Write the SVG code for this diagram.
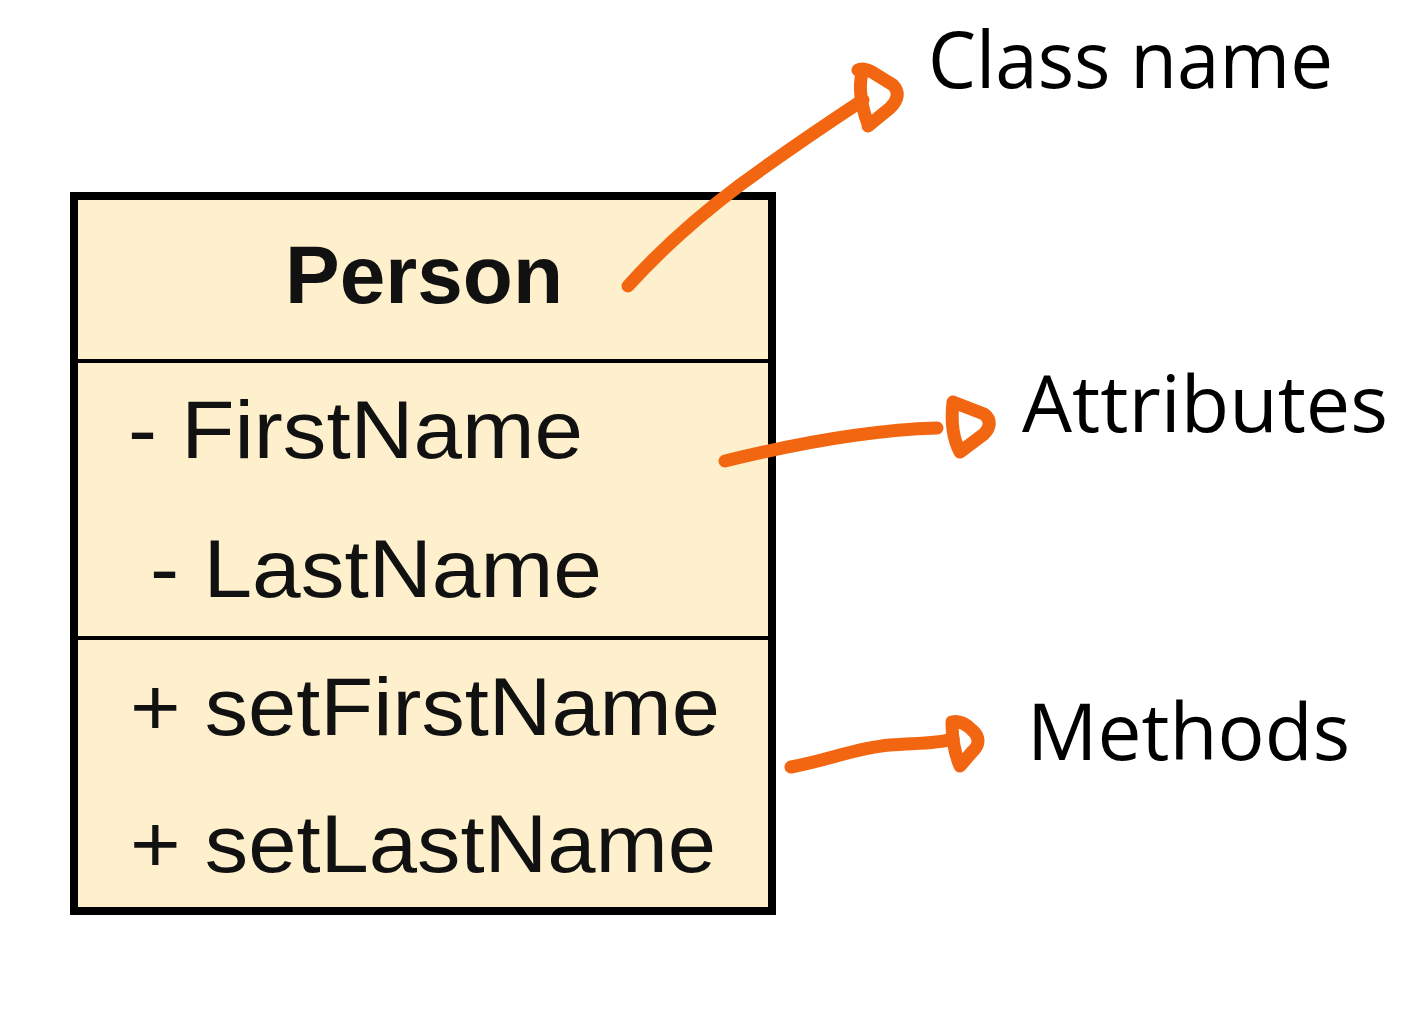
<svg xmlns="http://www.w3.org/2000/svg" width="1424" height="1024" viewBox="0 0 1424 1024">
<style>
.box{fill:#FEF0CD;stroke:#000;stroke-width:8}
.div{stroke:#000;stroke-width:4}
.t{font-family:"Liberation Sans",Arial,sans-serif;font-size:82px;fill:#111}
.b{font-weight:bold}
.lbl{font-family:"Open Sans","Liberation Sans",sans-serif;font-size:78px;fill:#000}
.arr{fill:none;stroke:#F26611;stroke-width:13;stroke-linecap:round;stroke-linejoin:round}
</style>
<rect width="1424" height="1024" fill="#fff"/>
<g id="person">
<rect class="box" x="74" y="196" width="698" height="715"/>
<line class="div" x1="74" y1="361" x2="772" y2="361"/>
<line class="div" x1="74" y1="638" x2="772" y2="638"/>
<text class="t b" x="424" y="303" text-anchor="middle" textLength="278" lengthAdjust="spacingAndGlyphs">Person</text>
<text class="t" x="128" y="458" textLength="455" lengthAdjust="spacingAndGlyphs">- FirstName</text>
<text class="t" x="150" y="597" textLength="452" lengthAdjust="spacingAndGlyphs">- LastName</text>
<text class="t" x="130" y="735" textLength="590" lengthAdjust="spacingAndGlyphs">+ setFirstName</text>
<text class="t" x="130" y="872" textLength="586" lengthAdjust="spacingAndGlyphs">+ setLastName</text>
</g>
<g id="label-classname"><text class="lbl" x="928" y="88" textLength="405" lengthAdjust="spacingAndGlyphs">Class name</text></g>
<g id="label-attributes"><text class="lbl" x="1022" y="432" textLength="366" lengthAdjust="spacingAndGlyphs">Attributes</text></g>
<g id="label-methods"><text class="lbl" x="1027" y="760" textLength="323" lengthAdjust="spacingAndGlyphs">Methods</text></g>
<g id="connectors">
<path class="arr" d="M628,286 C665,245 700,215 740,185 C785,152 825,125 863,100"/>
<path class="arr" d="M858,70 C862,68 868,70 872,72 L893,85 C900,92 898,100 890,108 L868,126 M862,73 C858,90 862,108 868,124"/>
<path class="arr" d="M725,461 C790,445 870,430 937,428"/>
<path class="arr" d="M953,402 L984,414 C992,420 990,428 984,434 L960,452 C952,437 951,420 953,402 Z"/>
<path class="arr" d="M791,767 C830,760 855,748 890,745 C915,743 935,744 953,739"/>
<path class="arr" d="M952,722 C960,720 966,724 972,730 C980,737 980,745 972,752 L960,766 C954,752 952,737 952,722 Z"/>
</g>
</svg>
